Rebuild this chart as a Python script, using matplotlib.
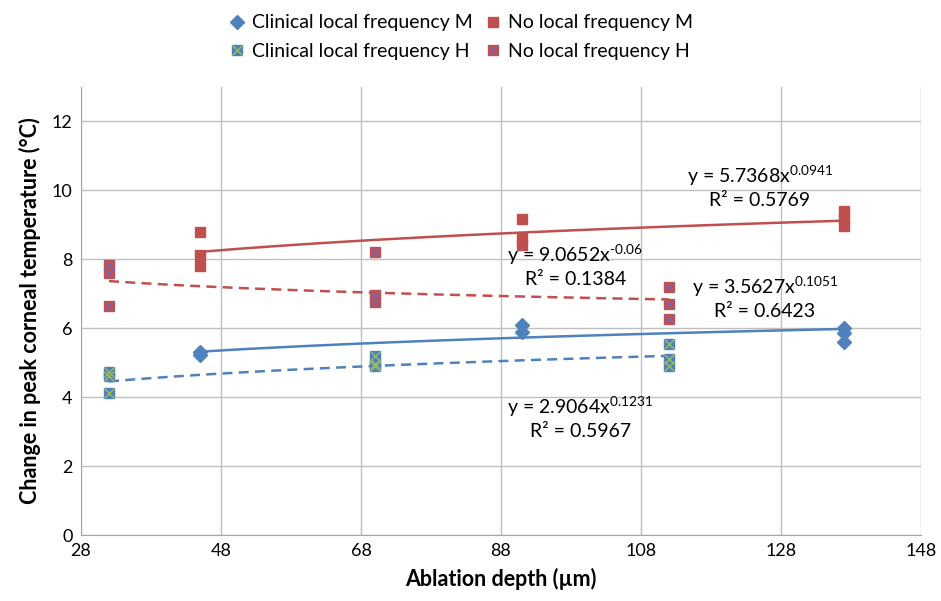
import numpy as np
import matplotlib
matplotlib.use("Agg")
import matplotlib.pyplot as plt

plt.rcParams['font.family'] = ['Lato', 'DejaVu Sans']
plt.rcParams['mathtext.default'] = 'regular'
plt.rcParams['axes.unicode_minus'] = False

BLUE = '#4F81BD'
RED = '#C0504D'
GREEN = '#9BBB59'
PURPLE = '#8064A2'

# measured points (ablation depth in um, change in peak temperature in C)
clin_m_x = [45, 45, 91, 91, 137, 137, 137]
clin_m_y = [5.30, 5.22, 6.10, 5.90, 6.00, 5.85, 5.60]

none_m_x = [45, 45, 45, 91, 91, 91, 137, 137, 137]
none_m_y = [8.78, 8.12, 7.80, 9.15, 8.60, 8.40, 9.40, 9.20, 8.95]

clin_h_x = [32, 32, 32, 70, 70, 70, 112, 112, 112]
clin_h_y = [4.72, 4.60, 4.12, 5.20, 4.95, 4.90, 5.55, 5.10, 4.90]

none_h_x = [32, 32, 32, 70, 70, 70, 112, 112, 112]
none_h_y = [7.83, 7.60, 6.64, 8.20, 6.95, 6.75, 7.20, 6.70, 6.25]

# power trendlines y = a * x^b as printed on the chart
fit_a = [3.5627, 5.7368, 2.9064, 9.0652]
fit_b = [0.1051, 0.0941, 0.1231, -0.06]
fit_r2 = ['0.6423', '0.5769', '0.5967', '0.1384']
fit_b_txt = ['0.1051', '0.0941', '0.1231', '\u2010' + '0.06']

fig = plt.figure(figsize=(9.41, 6.01), dpi=100)
ax = fig.add_axes([0.0861, 0.1098, 0.8926, 0.746])

series = [
    (clin_m_x, clin_m_y, BLUE, '-'),
    (none_m_x, none_m_y, RED, '-'),
    (clin_h_x, clin_h_y, BLUE, (0, (4, 2.5))),
    (none_h_x, none_h_y, RED, (0, (4, 2.5))),
]
for i, (xs, ys, col, ls) in enumerate(series):
    xx = np.linspace(min(xs), max(xs), 100)
    ax.plot(xx, fit_a[i] * xx ** fit_b[i], color=col, lw=1.8, ls=ls, zorder=2)

hm, = ax.plot(clin_m_x, clin_m_y, 'D', color=BLUE, ms=7, ls='none', zorder=3)
hn, = ax.plot(none_m_x, none_m_y, 's', color=RED, ms=7.5, ls='none', zorder=3)
hc1, = ax.plot(clin_h_x, clin_h_y, 's', color=BLUE, ms=7.5, ls='none', zorder=3)
hc2, = ax.plot(clin_h_x, clin_h_y, 'x', color=GREEN, ms=6.5, mew=1.0, ls='none', zorder=4)
hr1, = ax.plot(none_h_x, none_h_y, 's', color=RED, ms=7.5, ls='none', zorder=3)
hr2, = ax.plot(none_h_x, none_h_y, 'x', color=PURPLE, ms=6.5, mew=1.0, ls='none', zorder=4)

# equation labels
eq_pos = [(125.7, 7.19), (125.0, 10.41), (99.3, 3.71), (98.6, 8.12)]
for i, (ex, ey) in enumerate(eq_pos):
    ax.text(ex, ey, 'y = %.4fx$^{%s}$' % (fit_a[i], fit_b_txt[i]),
            ha='center', va='center', fontsize=14)
    ax.text(ex, ey - 0.7, 'R² = ' + fit_r2[i], ha='center', va='center', fontsize=14)

ax.set_xlim(28, 148)
ax.set_ylim(0, 13)
ax.set_xticks(np.arange(28, 149, 20))
ax.set_yticks(np.arange(0, 13, 2))
ax.grid(True, color='#BFBFBF', lw=1.0)
ax.set_axisbelow(True)
for s in ['top', 'right']:
    ax.spines[s].set_visible(False)
for s in ['left', 'bottom']:
    ax.spines[s].set_color('#A6A6A6')
ax.tick_params(length=0, labelsize=13, pad=6)
ax.set_xlabel('Ablation depth (µm)', fontsize=15.5, fontweight='bold', labelpad=6)
ax.set_ylabel('Change in peak corneal temperature (°C)', fontsize=15.5,
              fontweight='bold', labelpad=8)

fig.legend([hm, (hc1, hc2), hn, (hr1, hr2)],
           ['Clinical local frequency M', 'Clinical local frequency H',
            'No local frequency M', 'No local frequency H'],
           ncol=2, loc='upper center', bbox_to_anchor=(0.49, 1.005),
           frameon=False, fontsize=14, handlelength=0.8, handletextpad=0.4,
           columnspacing=0.6, labelspacing=0.6)

fig.savefig('out.png', dpi=100)
